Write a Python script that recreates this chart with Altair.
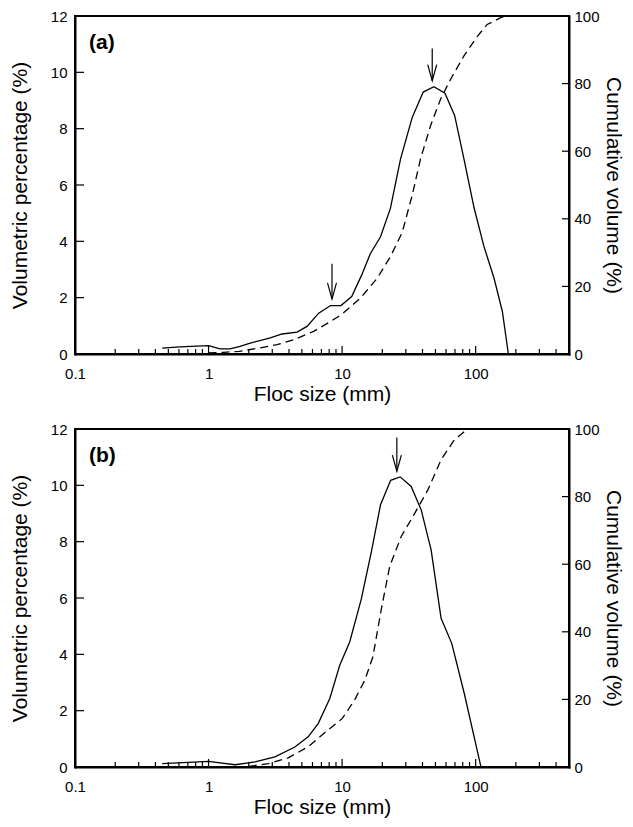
import altair as alt
import pandas as pd

# ---------------- data ----------------
a_size = [0.45, 0.61, 1.0, 1.22, 1.45, 1.72, 2.05, 2.9, 3.55, 4.6, 5.46, 6.68, 8.2, 9.8,
          11.8, 14.0, 16.3, 19.4, 23.0, 27.4, 33.5, 40.5, 48.7, 58.9, 69.6, 81.7, 97.2,
          115.5, 137.3, 158.5, 175.8]
a_vol = [0.21, 0.25, 0.30, 0.18, 0.18, 0.27, 0.39, 0.57, 0.71, 0.78, 0.98, 1.45, 1.72, 1.72,
         2.04, 2.80, 3.57, 4.16, 5.17, 6.93, 8.40, 9.30, 9.49, 9.26, 8.47, 6.93, 5.20,
         3.81, 2.69, 1.51, 0.0]
a_cum_size = [1.0, 1.3, 1.7, 2.44, 3.25, 4.34, 6.13, 8.18, 10.0, 13.7, 18.3, 23.0, 28.2,
              33.5, 38.7, 46.0, 54.6, 64.9, 81.7, 103.0, 122.0, 154.0, 170.0]
a_cum = [0.3, 0.5, 0.8, 1.8, 2.75, 4.2, 6.7, 9.6, 11.8, 16.5, 22.4, 28.8, 36.0,
         47.0, 57.8, 67.6, 75.4, 81.3, 88.2, 94.0, 97.5, 99.5, 100.0]
a_arrow_size = [8.4, 47.3]
a_arrow_tip = [1.95, 9.7]
a_arrow_top = [3.2, 10.85]

b_size = [0.45, 1.0, 1.58, 2.23, 3.14, 4.43, 5.57, 6.62, 8.09, 9.6, 11.4, 13.9, 16.5,
          19.4, 23.1, 27.2, 32.9, 39.1, 46.4, 55.1, 66.2, 82.2, 109.6]
b_vol = [0.12, 0.20, 0.08, 0.18, 0.36, 0.71, 1.07, 1.54, 2.43, 3.61, 4.44, 5.95, 7.60,
         9.31, 10.18, 10.30, 9.96, 9.13, 7.71, 5.28, 4.39, 2.61, 0.0]
b_cum_size = [2.0, 2.8, 3.95, 5.57, 7.87, 10.0, 12.4, 14.8, 17.0, 19.6, 22.7, 27.7,
              33.9, 43.9, 55.1, 69.2, 87.1]
b_cum = [0.2, 1.0, 2.7, 6.0, 11.0, 14.3, 19.8, 25.7, 32.6, 46.4, 59.3, 68.2,
         74.1, 82.0, 90.9, 96.8, 100.0]
b_arrow_size = [25.7]
b_arrow_tip = [10.5]
b_arrow_top = [11.7]

x_major = [0.1, 1, 10, 100]
x_minor = [0.2, 0.3, 0.4, 0.5, 0.6, 0.7, 0.8, 0.9,
           2, 3, 4, 5, 6, 7, 8, 9,
           20, 30, 40, 50, 60, 70, 80, 90,
           200, 300, 400]
y_left_ticks = [0, 2, 4, 6, 8, 10, 12]
y_right_ticks = [0, 20, 40, 60, 80, 100]
x_domain = [0.1, 500]
vol_domain = [0, 12]
cum_domain = [0, 100]

# ---------------- styling ----------------
FONT = "Liberation Sans, Arial, Helvetica, sans-serif"
W, H = 494, 338
LABEL_FS = 15
TITLE_FS = 21

xscale = alt.Scale(type="log", domain=x_domain, nice=False)
vscale = alt.Scale(domain=vol_domain, nice=False)
cscale = alt.Scale(domain=cum_domain, nice=False)

# axis domain lines form the left, bottom and right sides of the frame
common_axis = dict(ticks=False, domain=True, domainColor="black", domainWidth=2,
                   domainCap="square", grid=False, labelFlush=False,
                   labelOverlap=False,
                   labelFont=FONT, titleFont=FONT, labelFontSize=LABEL_FS,
                   titleFontSize=TITLE_FS, titleFontWeight="normal",
                   labelColor="black", titleColor="black")


def panel(label, size, vol, csize, cum, asize, atip, atop):
    xaxis = alt.Axis(values=x_major, format="~g", labelPadding=12,
                     title="Floc size (mm)", titlePadding=2, **common_axis)
    left_axis = alt.Axis(values=y_left_ticks, labelPadding=8, titlePadding=20,
                         title="Volumetric percentage (%)", orient="left", **common_axis)
    right_axis = alt.Axis(values=y_right_ticks, labelPadding=5, titlePadding=3,
                          title="Cumulative volume (%)", orient="right", **common_axis)

    one = pd.DataFrame({"k": [0]})
    top_edge = alt.Chart(one).mark_rule(color="black", strokeWidth=2).encode(
        x=alt.value(1), x2=alt.value(W - 1), y=alt.value(0))

    solid = alt.Chart(pd.DataFrame({"size": size, "vol": vol})).mark_line(
        color="black", strokeWidth=1.3).encode(
        x=alt.X("size:Q", scale=xscale, axis=xaxis),
        y=alt.Y("vol:Q", scale=vscale, axis=left_axis),
    )
    dashed = alt.Chart(pd.DataFrame({"size": csize, "cum": cum})).mark_line(
        color="black", strokeWidth=1.3, strokeDash=[8, 5]).encode(
        x=alt.X("size:Q", scale=xscale),
        y=alt.Y("cum:Q", scale=cscale, axis=right_axis),
    )
    xt_major = alt.Chart(pd.DataFrame({"size": x_major[1:]})).mark_rule(
        color="black", strokeWidth=1.2).encode(
        x=alt.X("size:Q", scale=xscale), y=alt.value(H), y2=alt.value(H - 8))
    xt_minor = alt.Chart(pd.DataFrame({"size": x_minor})).mark_rule(
        color="black", strokeWidth=1.2).encode(
        x=alt.X("size:Q", scale=xscale), y=alt.value(H), y2=alt.value(H - 5))
    yl_ticks = alt.Chart(pd.DataFrame({"v": y_left_ticks[1:-1]})).mark_rule(
        color="black", strokeWidth=1.2).encode(
        y=alt.Y("v:Q", scale=vscale, axis=None), x=alt.value(1), x2=alt.value(9))
    yr_ticks = alt.Chart(pd.DataFrame({"v": y_right_ticks[1:-1]})).mark_rule(
        color="black", strokeWidth=1.2).encode(
        y=alt.Y("v:Q", scale=cscale, axis=None), x=alt.value(W - 1), x2=alt.value(W - 7))
    arrows = pd.DataFrame({"size": asize, "tip": atip, "top": atop})
    shaft = alt.Chart(arrows).mark_rule(color="black", strokeWidth=1.2).encode(
        x=alt.X("size:Q", scale=xscale),
        y=alt.Y("top:Q", scale=vscale, axis=None), y2="tip:Q")
    head = alt.Chart(arrows).mark_point(
        shape="M -1 -3.6 L 0 0 L 1 -3.6", size=81, filled=False,
        color="black", strokeWidth=1.2, opacity=1).encode(
        x=alt.X("size:Q", scale=xscale),
        y=alt.Y("tip:Q", scale=vscale, axis=None))
    lab = alt.Chart(pd.DataFrame({"label": [label]})).mark_text(
        font=FONT, fontSize=21, fontWeight="bold", align="left",
        baseline="middle", color="black").encode(
        text="label:N", x=alt.value(14), y=alt.value(27))

    return alt.layer(solid, dashed, xt_major, xt_minor, yl_ticks, yr_ticks,
                     shaft, head, lab, top_edge).resolve_scale(y="independent").properties(
        width=W, height=H)


pa = panel("(a)", a_size, a_vol, a_cum_size, a_cum, a_arrow_size, a_arrow_tip, a_arrow_top)
pb = panel("(b)", b_size, b_vol, b_cum_size, b_cum, b_arrow_size, b_arrow_tip, b_arrow_top)

chart = alt.vconcat(pa, pb, spacing=16).properties(
    padding=0, background="white").configure_view(stroke="black", strokeWidth=2)

chart.save("out.html", embed_options={"renderer": "svg", "actions": False})
